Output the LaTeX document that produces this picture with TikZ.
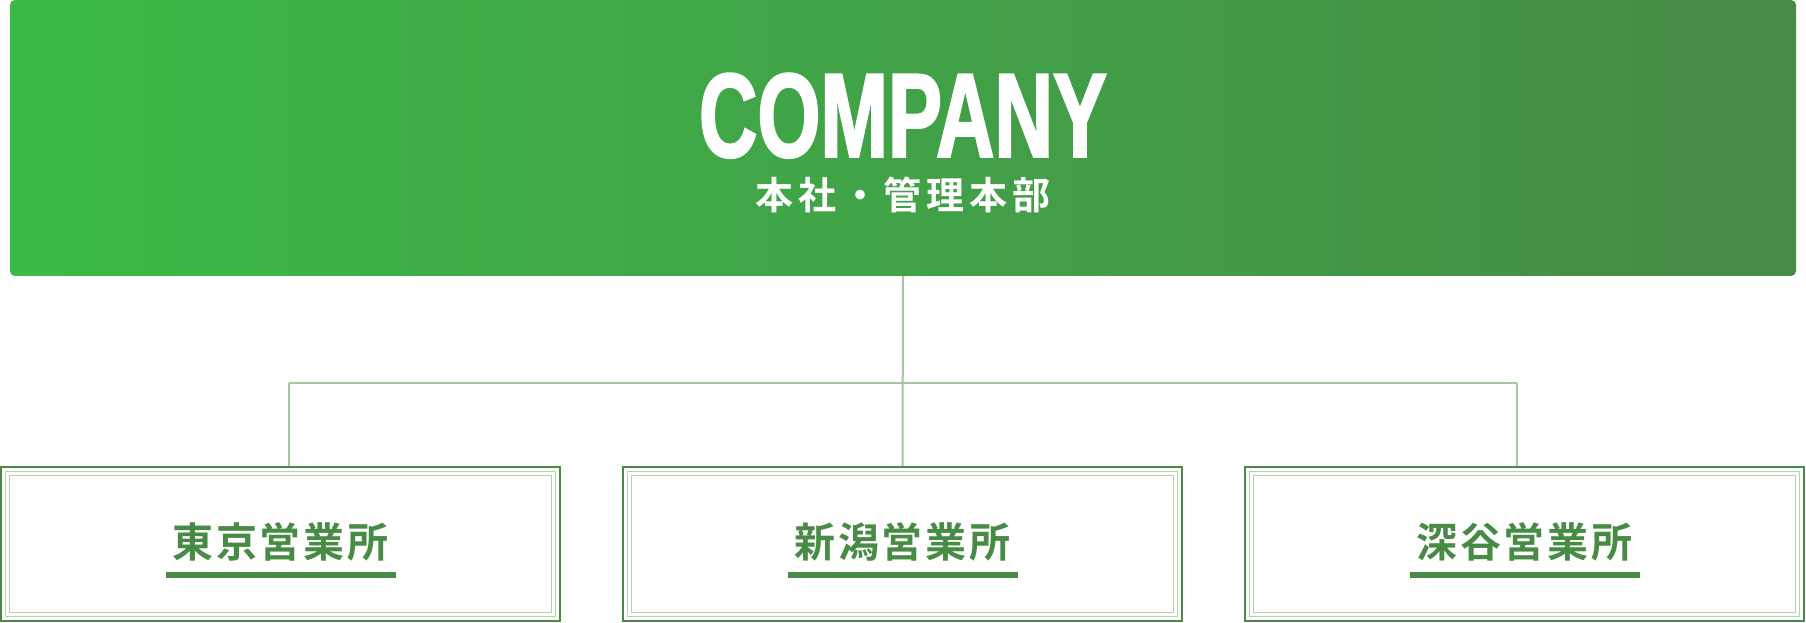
\documentclass[tikz,border=0pt]{standalone}
\usepackage{fontspec}
\setmainfont{Liberation Sans}
\newfontfamily\titlefont{Liberation Sans}[FakeStretch=0.675, FakeBold=1.6]
\newfontfamily\cjk{Noto Sans CJK JP}[UprightFont=* Medium, BoldFont=* Bold]
\usetikzlibrary{backgrounds,positioning}

\definecolor{headleft}{HTML}{3CBA48}
\definecolor{headright}{HTML}{468A46}
\definecolor{branchgreen}{HTML}{478B45}
\definecolor{palegreen}{HTML}{B3D2AF}
\definecolor{linkgreen}{HTML}{A8C4A4}

\tikzset{
    headbox/.style={rounded corners=5pt, left color=headleft, right color=headright,
                    inner sep=0pt, outer sep=0pt},
    branch/.style={draw=branchgreen, line width=2pt, fill=white, inner sep=0pt, outer sep=0pt,
                   minimum width=559pt, minimum height=154pt},
    pale/.style={draw=palegreen, line width=1.6pt},
    bar/.style={draw=branchgreen, line width=6pt},
    link/.style={draw=linkgreen, line width=2pt},
    branchtext/.style={text=branchgreen, font=\cjk\bfseries\fontsize{41}{41}\selectfont\addfontfeature{LetterSpace=7}}
}

\begin{document}
\begin{tikzpicture}[x=1pt,y=1pt]
                    \useasboundingbox (0,0) rectangle (1806,622);
                    \node (head) at (903,484) [headbox, minimum width=1786pt, minimum height=276pt] {};
                    \node (title) at (903,465) [anchor=base, inner sep=0pt, text=white,
                                                font=\titlefont\bfseries\fontsize{120}{120}\selectfont] {COMPANY};
                    \node (subtitle) at (903,412) [anchor=base, inner sep=0pt, text=white,
                                                   font=\cjk\bfseries\fontsize{38}{38}\selectfont\addfontfeature{LetterSpace=13}] {本社・管理本部};
                    % offices
                    \node (tokyo) at (280.5,78) [branch] {};
                    \node (niigata) [branch, right=63pt of tokyo] {};
                    \node (fukaya) [branch, right=63pt of niigata] {};
                    \foreach \Office/\Name in {%
                        tokyo/東京営業所,
                        niigata/新潟営業所,
                        fukaya/深谷営業所%
                        }
                        {
                        \draw[pale] ([shift={(4.5,-4.5)}]\Office.north west) rectangle ([shift={(-4.5,4.5)}]\Office.south east);
                        \draw[pale] ([shift={(8.5,-8.5)}]\Office.north west) rectangle ([shift={(-8.5,8.5)}]\Office.south east);
                        \node (\Office-name) at ([yshift=-13pt]\Office.center) [anchor=base, inner sep=0pt, branchtext] {\Name};
                        \draw[bar] ([shift={(-115,-31)}]\Office.center) -- ([shift={(115,-31)}]\Office.center);
                        }
                    % tree lines
                    \coordinate (fork-w) at (289,239);
                    \coordinate (fork-e) at (1517,239);
                    \begin{scope}[on background layer]
                        \draw[link] (head.south) to (niigata.north);
                        \draw[link] (fork-w) to (fork-e);
                        \draw[link] (fork-w) to (fork-w |- tokyo.north);
                        \draw[link] (fork-e) to (fork-e |- fukaya.north);
                    \end{scope}
                \end{tikzpicture}
\end{document}
